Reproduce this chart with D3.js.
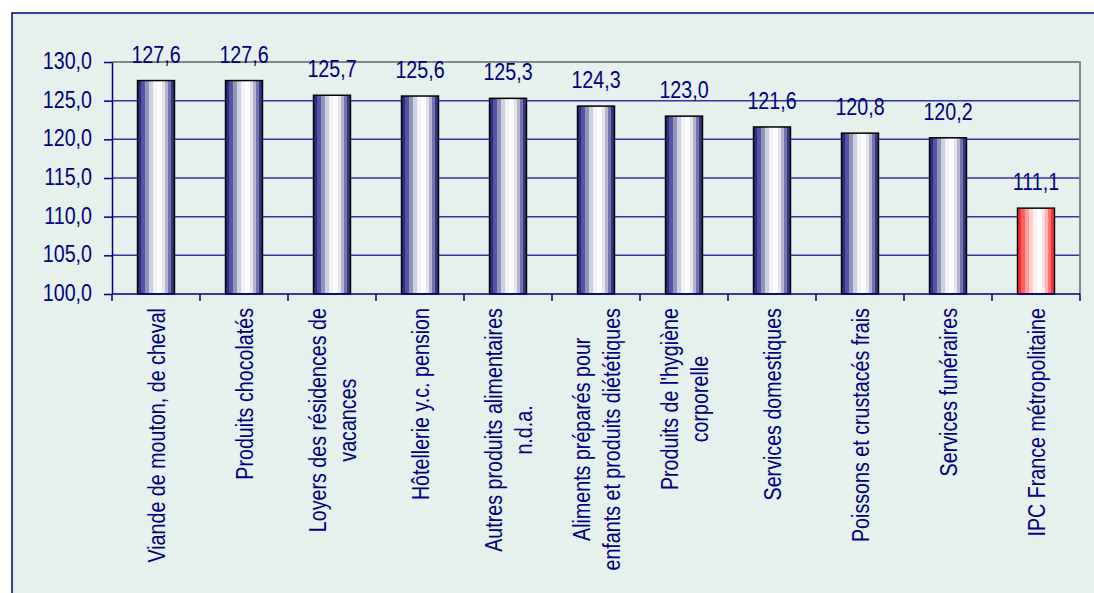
<!DOCTYPE html>
<html>
<head>
<meta charset="utf-8">
<script src="https://cdn.jsdelivr.net/npm/d3@7"></script>
<style>
  body { margin: 0; background: #fff; }
  text { font-family: "Liberation Sans", Arial, sans-serif; }
</style>
</head>
<body>
<script>
// data
var categories = [
  "Viande de mouton, de cheval",
  "Produits chocolatés",
  "Loyers des résidences de\nvacances",
  "Hôtellerie y.c. pension",
  "Autres produits alimentaires\nn.d.a.",
  "Aliments préparés pour\nenfants et produits diététiques",
  "Produits de l'hygiène\ncorporelle",
  "Services domestiques",
  "Poissons et crustacés frais",
  "Services funéraires",
  "IPC France métropolitaine"
];
var values = [127.6, 127.6, 125.7, 125.6, 125.3, 124.3, 123.0, 121.6, 120.8, 120.2, 111.1];
var yTicks = [100, 105, 110, 115, 120, 125, 130];
var highlight = "IPC France métropolitaine";

var width = 1094, height = 593;
var plot = {left: 112, right: 1080, top: 62, bottom: 294};
var navy = "#000080";
var narrow = 0.82;   // the chart uses a condensed face
var fontSize = 24;

var blueBands = ["#2b2b86", "#55559e", "#9595bc", "#cfcfe2", "#f2f2f8", "#ffffff", "#e4e4ee", "#b4b4ce", "#7474a8", "#35358e"];
var redBands  = ["#ff2a2a", "#ff6060", "#ff9c9c", "#ffd0d0", "#fff0f0", "#ffffff", "#ffe4e4", "#ffb4b4", "#ff7474", "#ff3535"];
var bandEdges = [0, 0.1, 0.2, 0.3, 0.42, 0.52, 0.66, 0.74, 0.82, 0.9, 1];

var fr = d3.formatLocale({decimal: ",", thousands: " ", grouping: [3], currency: ["", " €"]});
var fmt = fr.format(".1f");

var svg = d3.select("body").append("svg")
    .attr("width", width)
    .attr("height", height);

// banded (stepped) gradients like the old Excel fill
var defs = svg.append("defs");
function bandGradient(id, cols) {
  var g = defs.append("linearGradient").attr("id", id)
      .attr("x1", "0%").attr("x2", "100%").attr("y1", "0%").attr("y2", "0%");
  cols.forEach(function(c, i) {
    g.append("stop").attr("offset", bandEdges[i]).attr("stop-color", c);
    g.append("stop").attr("offset", bandEdges[i + 1]).attr("stop-color", c);
  });
}
bandGradient("gBlue", blueBands);
bandGradient("gRed", redBands);

// chart frame
svg.append("rect")
    .attr("x", 12).attr("y", 13)
    .attr("width", width).attr("height", height)
    .attr("fill", "#e6f0ec")
    .attr("stroke", navy)
    .attr("stroke-width", 1.5);

var x = d3.scaleBand()
    .domain(categories)
    .range([plot.left, plot.right])
    .padding(0);

var y = d3.scaleLinear()
    .domain([100, 130])
    .range([plot.bottom, plot.top]);

// gridlines
svg.append("g").selectAll("line")
    .data(yTicks.filter(function(t) { return t > 100 && t < 130; }))
  .enter().append("line")
    .attr("x1", plot.left).attr("x2", plot.right)
    .attr("y1", function(d) { return y(d); })
    .attr("y2", function(d) { return y(d); })
    .attr("stroke", "#3535a0")
    .attr("stroke-width", 1.5);

// grey top / right border of the plot area
svg.append("path")
    .attr("d", "M" + plot.left + "," + y(130) + "H" + plot.right + "V" + y(100))
    .attr("fill", "none")
    .attr("stroke", "#858585")
    .attr("stroke-width", 2);

// bars
var bw = x.bandwidth();
svg.append("g").selectAll("rect")
    .data(categories)
  .enter().append("rect")
    .attr("x", function(d) { return x(d) + bw * 0.29; })
    .attr("width", bw * 0.42)
    .attr("y", function(d, i) { return y(values[i]); })
    .attr("height", function(d, i) { return y(100) - y(values[i]); })
    .attr("fill", function(d) { return d === highlight ? "url(#gRed)" : "url(#gBlue)"; })
    .attr("stroke", "#000")
    .attr("stroke-width", 1.5);

// y axis
var yAxis = svg.append("g")
    .attr("transform", "translate(" + plot.left + ",0)")
    .call(d3.axisLeft(y).tickValues(yTicks).tickSize(8).tickSizeOuter(0).tickPadding(12).tickFormat(fmt));
yAxis.select(".domain").attr("stroke", navy).attr("stroke-width", 1.5);
yAxis.selectAll(".tick line").attr("stroke", navy).attr("stroke-width", 1.5);
yAxis.selectAll(".tick text")
    .attr("fill", navy)
    .attr("font-size", fontSize)
    .attr("font-family", "Liberation Sans, Arial, sans-serif")
    .attr("dy", "0.27em")
    .each(function() {
      var t = d3.select(this), tx = +t.attr("x");
      t.attr("x", 0).attr("transform", "translate(" + tx + ",0) scale(" + narrow + ",1)");
    });

// x axis: line and ticks on the category boundaries
var xAxis = svg.append("g");
xAxis.append("line")
    .attr("x1", plot.left).attr("x2", plot.right)
    .attr("y1", y(100)).attr("y2", y(100))
    .attr("stroke", navy).attr("stroke-width", 1.5);
var bounds = categories.map(function(c) { return x(c); }).concat([x.range()[1]]);
xAxis.selectAll("line.tk")
    .data(bounds)
  .enter().append("line")
    .attr("class", "tk")
    .attr("x1", function(d) { return d; }).attr("x2", function(d) { return d; })
    .attr("y1", y(100)).attr("y2", y(100) + 7)
    .attr("stroke", navy).attr("stroke-width", 1.5);

// value labels
svg.append("g").selectAll("text")
    .data(categories)
  .enter().append("text")
    .attr("text-anchor", "middle")
    .attr("fill", navy)
    .attr("font-size", fontSize)
    .attr("transform", function(d, i) {
      return "translate(" + (x(d) + bw / 2) + "," + (y(values[i]) - 18) + ") scale(" + narrow + ",1)";
    })
    .text(function(d, i) { return fmt(values[i]); });

// category labels, rotated, top aligned, lines centred on each other
var labelTop = y(100) + 14;
var pitch = 30;
categories.forEach(function(c) {
  var lines = c.split("\n");
  var g = svg.append("g");
  var texts = lines.map(function(l) {
    return g.append("text")
        .attr("text-anchor", "middle")
        .attr("fill", navy)
        .attr("font-size", fontSize)
        .text(l);
  });
  var maxLen = d3.max(texts, function(t) { return t.node().getComputedTextLength(); }) * narrow;
  var cy = labelTop + maxLen / 2;
  var cx = x(c) + bw / 2;
  texts.forEach(function(t, i) {
    var bx = cx + (i - (lines.length - 1) / 2) * pitch + 9;
    t.attr("transform", "translate(" + bx + "," + cy + ") rotate(-90) scale(" + narrow + ",1)");
  });
});
</script>
</body>
</html>
